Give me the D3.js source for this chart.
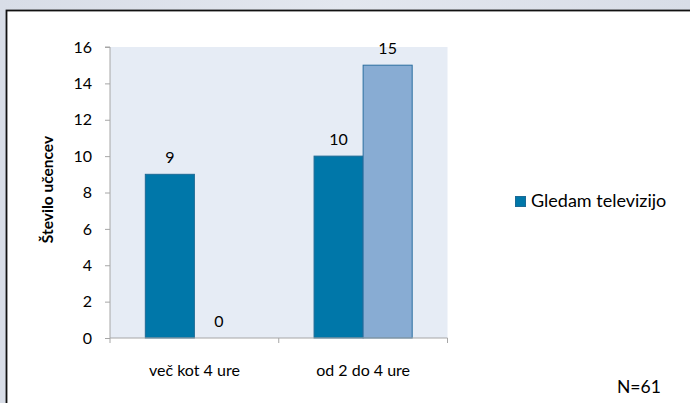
<!DOCTYPE html>
<html><head><meta charset="utf-8">
<script src="https://cdn.jsdelivr.net/npm/d3@7"></script>
<style>
html,body{margin:0;padding:0;background:#dde2eb;}
svg{display:block;}
text{font-family:Lato,"Open Sans",sans-serif;fill:#000;}
</style></head>
<body>
<svg id="chart" width="690" height="403"></svg>
<script>
const categories = ["več kot 4 ure", "od 2 do 4 ure"];
const seriesNames = ["Gledam televizijo", "Drugo"];
const seriesA = [9, 10];
const seriesB = [0, 15];
const yTicks = [0, 2, 4, 6, 8, 10, 12, 14, 16];
const colors = ["#0077a9", "#88acd3"];
const strokes = ["#1d6a95", "#2a6ea0"];

(function(){
const svg = d3.select("#chart");
const defs = svg.append("defs");
const g1 = defs.append("linearGradient").attr("id","bg").attr("x1","0").attr("x2","1").attr("y1","0").attr("y2","0");
g1.append("stop").attr("offset","0").attr("stop-color","#d8dde7");
g1.append("stop").attr("offset","0.5").attr("stop-color","#e3e7ef");
g1.append("stop").attr("offset","1").attr("stop-color","#d8dde7");
svg.append("rect").attr("width",690).attr("height",403).attr("fill","url(#bg)");

// white chart box
svg.append("rect").attr("x",6.5).attr("y",10.5).attr("width",700).attr("height",420)
  .attr("fill","#fff").attr("stroke","#111").attr("stroke-width",1.8);

const pL = 110, pR = 447.5, pT = 47, pB = 338;
const x0 = d3.scaleBand().domain(categories).range([pL, pR]).paddingInner(0).paddingOuter(0);
const x1 = d3.scaleBand().domain(seriesNames).range([0, x0.bandwidth()]).paddingInner(0).paddingOuter(0.72);
const y = d3.scaleLinear().domain([0, 16]).range([pB, pT]);

svg.append("rect").attr("x",pL).attr("y",pT).attr("width",pR-pL).attr("height",pB-pT).attr("fill","#e6ecf5");

// y axis
const yAxis = svg.append("g").attr("transform",`translate(${pL},0)`)
  .call(d3.axisLeft(y).tickValues(yTicks).tickSize(5).tickPadding(13).tickFormat(d3.format("d")));
yAxis.select(".domain").attr("stroke","#a6a6a6").attr("d",`M-5,${pT}H0V${pB}`);
yAxis.selectAll(".tick line").attr("stroke","#a6a6a6");
yAxis.selectAll("text").attr("font-size",16).attr("font-family","Lato,'Open Sans',sans-serif");

// bars
const data = categories.map((c,i)=>({cat:c, vals:[seriesA[i], seriesB[i]]}));
const grp = svg.selectAll(".grp").data(data).join("g").attr("transform",d=>`translate(${x0(d.cat)},0)`);
grp.selectAll("rect").data(d=>d.vals.map((v,j)=>({v, s:seriesNames[j], j}))).join("rect")
  .attr("x",d=>x1(d.s)).attr("width",x1.bandwidth())
  .attr("y",d=>y(d.v)).attr("height",d=>y(0)-y(d.v))
  .attr("fill",d=>colors[d.j]).attr("stroke",d=>d.v>0?strokes[d.j]:"none").attr("stroke-width",1);
grp.selectAll("text.lbl").data(d=>d.vals.map((v,j)=>({v, s:seriesNames[j], j}))).join("text")
  .attr("class","lbl")
  .attr("x",d=>x1(d.s)+x1.bandwidth()/2).attr("y",d=>y(d.v)-11)
  .attr("text-anchor","middle").attr("font-size",16).text(d=>d.v);

// x axis
const xAxis = svg.append("g").attr("transform",`translate(0,${pB})`)
  .call(d3.axisBottom(x0).tickSize(0).tickPadding(27));
xAxis.select(".domain").attr("stroke","#a6a6a6").attr("d",`M${pL},0H${pR}`);
xAxis.selectAll("text").attr("font-size",16).attr("font-family","Lato,'Open Sans',sans-serif");
const tickPos = [pL, ...categories.map(c=>x0(c)+x0.bandwidth())];
svg.append("g").selectAll("line").data(tickPos).join("line")
  .attr("x1",d=>d).attr("x2",d=>d).attr("y1",pB).attr("y2",pB+5).attr("stroke","#a6a6a6");

// y title
svg.append("text").attr("transform",`translate(53,${(pT+pB)/2 - 3}) rotate(-90)`)
  .attr("text-anchor","middle").attr("font-size",15.5).attr("font-weight","bold").text("Število učencev");

// legend
svg.append("rect").attr("x",515.5).attr("y",196.5).attr("width",10).attr("height",10)
  .attr("fill",colors[0]).attr("stroke",strokes[0]);
svg.append("text").attr("x",531).attr("y",207).attr("font-size",18).text(seriesNames[0]);

// N
svg.append("text").attr("x",617).attr("y",393).attr("font-size",17.5).text("N=61");
})();
</script>
</body></html>
